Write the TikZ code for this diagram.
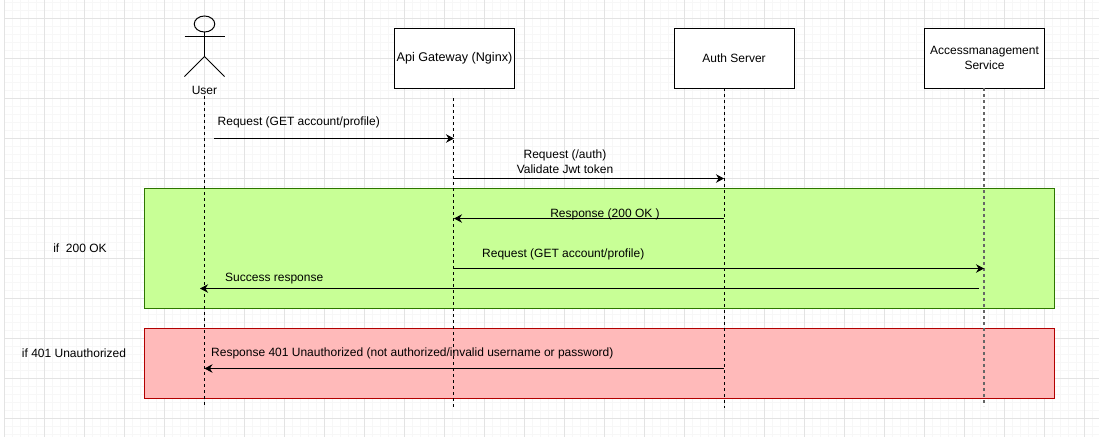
\documentclass[tikz,border=0pt]{standalone}
\usepackage{fontspec}
\setmainfont{Liberation Sans}
\usetikzlibrary{arrows.meta,shapes.geometric}

\definecolor{okfill}{HTML}{C8FF96}
\definecolor{okline}{HTML}{2D7600}
\definecolor{failfill}{HTML}{FFBABA}
\definecolor{failline}{HTML}{B20000}

\tikzset{
	actorbox/.style = {draw, fill=white, line width=1pt, minimum width=120pt, minimum height=60pt, inner sep=0pt, align=center, font=\fontsize{12}{15}\selectfont},
	lifeline/.style = {dash pattern=on 3pt off 3pt, line width=0.9pt},
	message/.style = {-{Stealth[length=8pt,width=8.5pt]}, line width=0.9pt},
	caption/.style = {inner sep=0pt, align=center, font=\fontsize{12}{15}\selectfont},
	area/.style = {line width=0.8pt, minimum width=910.5pt, inner sep=0pt},
}

\begin{document}
\begin{tikzpicture}[x=1pt,y=-1pt]
	\useasboundingbox (0,0) rectangle (1099,437);
	\fill [white] (0,0) rectangle (1099,437);

	% grid
	\foreach \gx in {0,...,136}
		\draw [black!3, line width=0.5pt] (4+8*\gx,0) -- (4+8*\gx,437);
	\foreach \gy in {0,...,54}
		\draw [black!3, line width=0.5pt] (4,2+8*\gy) -- (1099,2+8*\gy);
	\foreach \gx in {0,...,27}
		\draw [black!11, line width=0.8pt] (4+40*\gx,0) -- (4+40*\gx,437);
	\foreach \gy in {0,...,10}
		\draw [black!11, line width=0.8pt] (4,18+40*\gy) -- (1099,18+40*\gy);

	% alternatives
	\node (okarea) [area, draw=okline, fill=okfill, minimum height=120pt] at (599.3,248) {};
	\node (failarea) [area, draw=failline, fill=failfill, minimum height=70pt] at (599.3,363) {};
	\node (oklabel) [caption] at (80,248) {if\ \ 200 OK};
	\node (faillabel) [caption] at (74,353) {if 401 Unauthorized};

	% actors
	\node (head) [draw, line width=1pt, ellipse, minimum width=20.5pt, minimum height=16pt, inner sep=0pt] at (204.5,24) {};
	\coordinate (neck) at (204.5,32);
	\coordinate (hip) at (204.5,56.5);
	\coordinate (armleft) at (184.5,36);
	\coordinate (armright) at (224.5,36);
	\coordinate (footleft) at (184.5,76.5);
	\coordinate (footright) at (224.5,76.5);
	\draw [line width=1pt] (neck) -- (hip);
	\draw [line width=1pt] (armleft) -- (armright);
	\draw [line width=1pt] (footleft) -- (hip) -- (footright);
	\node (user) [caption] at (204.5,90) {User};
	\node (gateway) [actorbox, font=\fontsize{12.6}{15}\selectfont] at (454.5,58) {Api Gateway (Nginx)};
	\node (auth) [actorbox] at (734,58) {Auth Server};
	\node (access) [actorbox] at (984.5,58) {Accessmanagement\\Service};

	% lifelines
	\coordinate (userend) at (204.5,408);
	\coordinate (gatewaytop) at (453.5,98);
	\coordinate (gatewayend) at (453.5,408);
	\coordinate (authtop) at (724.5,88);
	\coordinate (authend) at (724.5,408);
	\coordinate (accesstop) at (984,88);
	\coordinate (accessend) at (984,406);
	\draw [lifeline] (user.south) ++(0,2) -- (userend);
	\draw [lifeline] (gatewaytop) -- (gatewayend);
	\draw [lifeline] (authtop) -- (authend);
	\draw [lifeline, black!60, line width=1.3pt] (accesstop) -- (accessend);

	% messages
	\coordinate (reqfrom) at (214,138.5);
	\coordinate (reqto) at (454,138.5);
	\coordinate (authfrom) at (454,178.5);
	\coordinate (authto) at (724,178.5);
	\coordinate (okfrom) at (724,218.5);
	\coordinate (okto) at (454,218.5);
	\coordinate (fwdfrom) at (454,268.5);
	\coordinate (fwdto) at (984,268.5);
	\coordinate (sucfrom) at (979,288.5);
	\coordinate (sucto) at (200,288.5);
	\coordinate (failfrom) at (724,368.5);
	\coordinate (failto) at (204.5,368.5);
	\draw [message] (reqfrom) -- (reqto);
	\draw [message] (authfrom) -- (authto);
	\draw [message] (okfrom) -- (okto);
	\draw [message] (fwdfrom) -- (fwdto);
	\draw [message] (sucfrom) -- (sucto);
	\draw [message] (failfrom) -- (failto);

	% message labels
	\node (reqlabel) [caption, anchor=west] at (217.5,122) {Request (GET account/profile)};
	\node (authlabel) [caption] at (565,162) {Request (/auth)\\Validate Jwt token};
	\node (oklabeltwo) [caption] at (605,214) {Response (200 OK )};
	\node (fwdlabel) [caption, anchor=west] at (482,254) {Request (GET account/profile)};
	\node (suclabel) [caption, anchor=west] at (225,278.5) {Success response};
	\node (faillabeltwo) [caption, anchor=west] at (211,353.5) {Response 401 Unauthorized (not authorized/invalid username or password)};
\end{tikzpicture}
\end{document}
